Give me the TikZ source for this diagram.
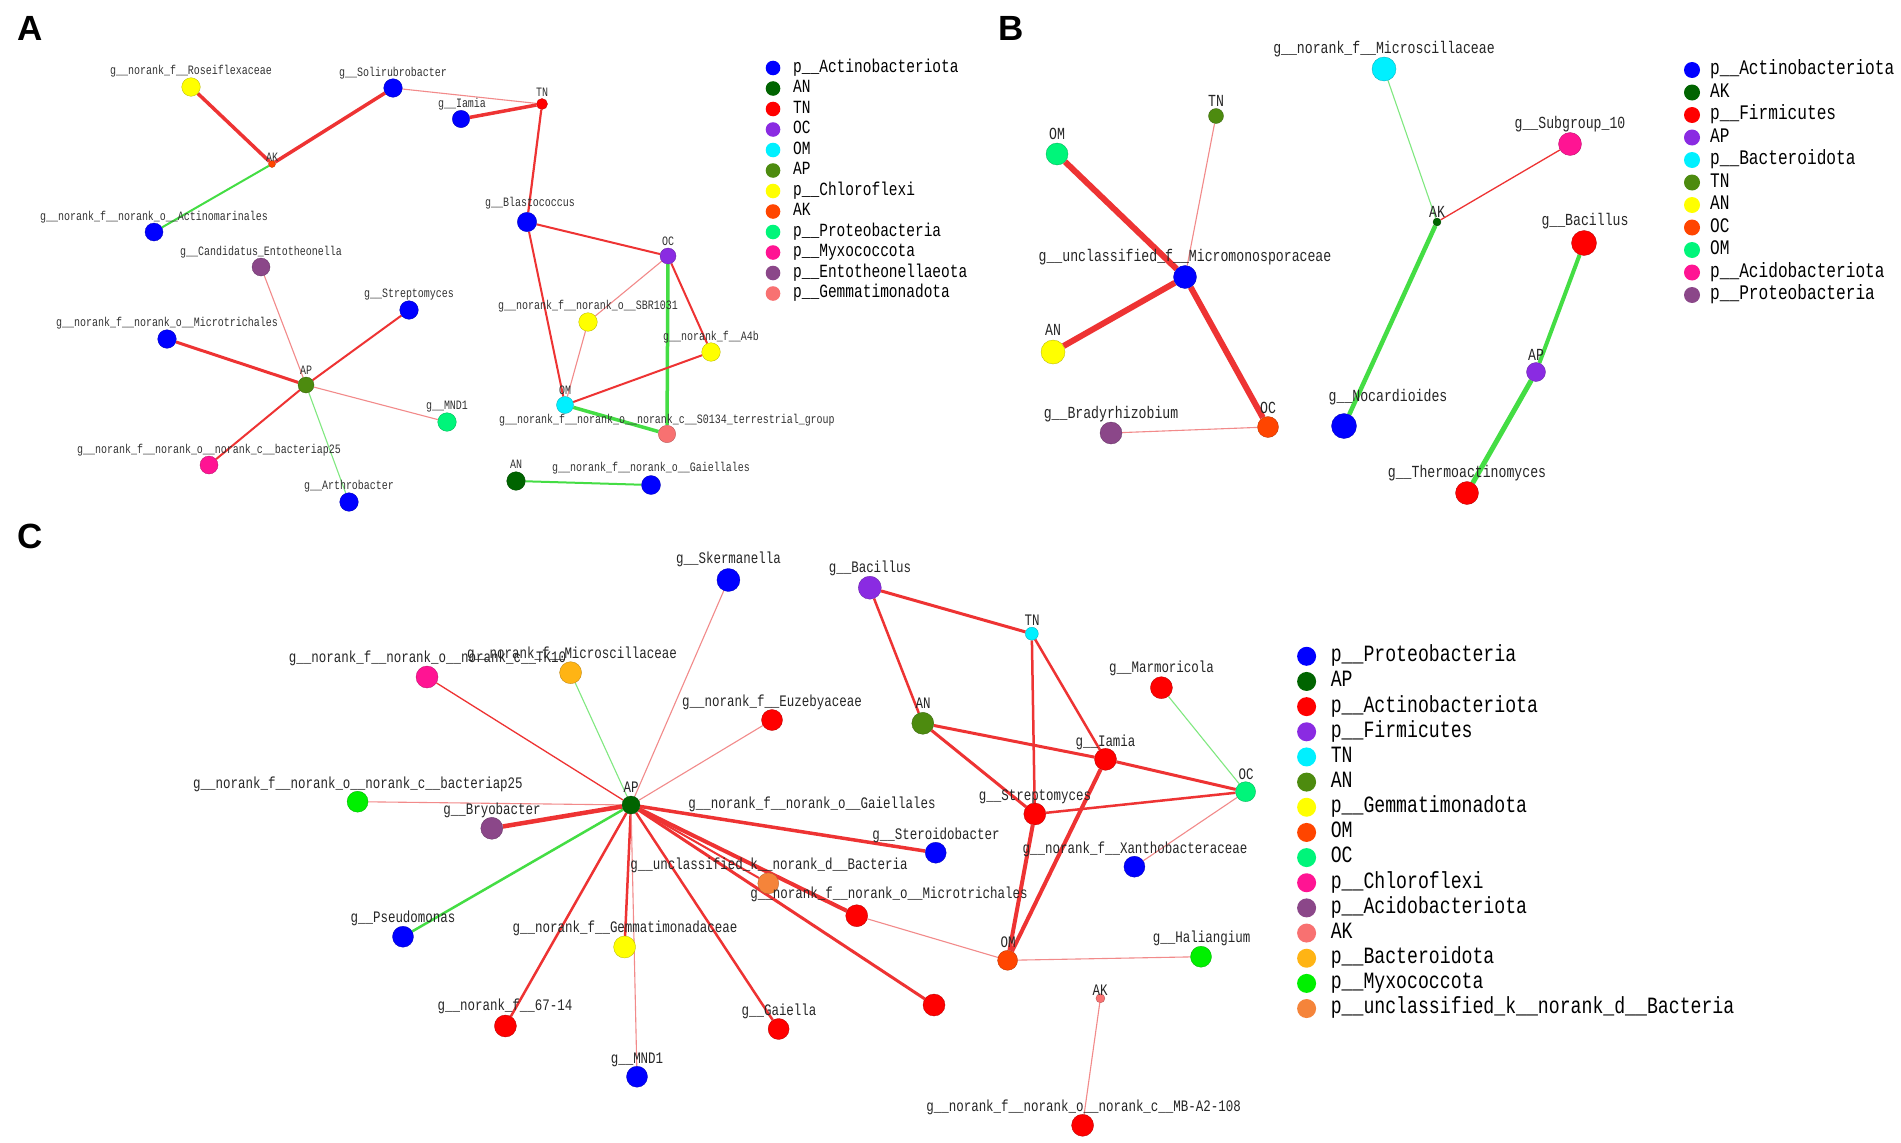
\documentclass[tikz,border=0pt]{standalone}
\usepackage{fontspec}
\newfontfamily\monof[FakeStretch=0.78]{Liberation Mono}
\newfontfamily\boldsans{Liberation Sans}
\definecolor{cBlue}{HTML}{0000FF}
\definecolor{cDGreen}{HTML}{006400}
\definecolor{cRed}{HTML}{FF0000}
\definecolor{cPurple}{HTML}{8A2BE2}
\definecolor{cCyan}{HTML}{00F0FF}
\definecolor{cOlive}{HTML}{4D8B0F}
\definecolor{cYellow}{HTML}{FFFF00}
\definecolor{cOrRed}{HTML}{FF4500}
\definecolor{cSpring}{HTML}{00F57A}
\definecolor{cPink}{HTML}{FF1493}
\definecolor{cEnto}{HTML}{8B4789}
\definecolor{cSalmon}{HTML}{F87171}
\definecolor{cOrange}{HTML}{FFB414}
\definecolor{cLime}{HTML}{00F000}
\definecolor{cOrangeB}{HTML}{F5843A}
\definecolor{eRedC}{HTML}{EE3333}
\definecolor{ePinkC}{HTML}{F28A8A}
\definecolor{eGreenC}{HTML}{44DD44}
\definecolor{eLGreenC}{HTML}{80E880}
\pgfdeclarelayer{bgfill}
\pgfdeclarelayer{edges}
\pgfsetlayers{bgfill,edges,main}
\tikzset{
  nd/.style={circle, inner sep=0pt, fill=#1, draw=#1!70!black, line width=0.3pt},
  fA/.style={font=\monof\fontsize{12.8}{13}\selectfont, inner sep=0pt, anchor=base, yshift=-4.2pt, text=black!80},
  fB/.style={font=\monof\fontsize{16.9}{17}\selectfont, inner sep=0pt, anchor=base, yshift=-5.6pt, text=black!85},
  fC/.style={font=\monof\fontsize{16}{17}\selectfont, inner sep=0pt, anchor=base, yshift=-5.3pt, text=black!85},
  lgA/.style={font=\monof\fontsize{18.6}{19}\selectfont, inner sep=0pt, anchor=base west, yshift=-4.3pt},
  lgB/.style={font=\monof\fontsize{20.7}{21}\selectfont, inner sep=0pt, anchor=base west, yshift=-4.8pt},
  lgC/.style={font=\monof\fontsize{23.3}{24}\selectfont, inner sep=0pt, anchor=base west, yshift=-5.4pt},
  panel/.style={font=\boldsans\bfseries\fontsize{35}{36}\selectfont, inner sep=0pt},
  er/.style={draw=eRedC, line width=#1},
  ep/.style={draw=ePinkC, line width=1.1pt},
  eg/.style={draw=eGreenC, line width=#1},
  elg/.style={draw=eLGreenC, line width=1.1pt}
}
\begin{document}
\begin{tikzpicture}[x=1pt, y=-1pt]
\useasboundingbox (0,0) rectangle (1901,1143);
\begin{pgfonlayer}{bgfill}
\fill[white] (0,0) rectangle (1901,1143);
\end{pgfonlayer}
% panel letters
\node[panel] (pA) at (30.5,28) {A};
\node[panel] (pB) at (1011,28) {B};
\node[panel] (pC) at (30,536) {C};

% ================= Panel A =================
\node[nd=cOrRed, minimum size=7pt] (AAK) at (272,164) {};
\node[nd=cYellow, minimum size=18.6pt] (ARos) at (191,87) {};
\node[nd=cBlue, minimum size=18.6pt] (ASol) at (393,88) {};
\node[nd=cBlue, minimum size=17.4pt] (AIam) at (461,119) {};
\node[nd=cBlue, minimum size=18pt] (AAct) at (154,232) {};
\node[nd=cEnto, minimum size=18pt] (ACan) at (261,267) {};
\node[nd=cBlue, minimum size=18.6pt] (AStr) at (409,310) {};
\node[nd=cRed, minimum size=11pt] (ATN) at (542,104) {};
\node[nd=cBlue, minimum size=19.4pt] (ABla) at (527,222) {};
\node[nd=cPurple, minimum size=16pt] (AOC) at (668,256) {};
\node[nd=cBlue, minimum size=18.6pt] (AMic) at (167,339) {};
\node[nd=cOlive, minimum size=16pt] (AAP) at (306,385) {};
\node[nd=cSpring, minimum size=18.6pt] (AMND) at (447,422) {};
\node[nd=cPink, minimum size=18pt] (Ab25) at (209,465) {};
\node[nd=cBlue, minimum size=18.6pt] (AArt) at (349,502) {};
\node[nd=cYellow, minimum size=18.6pt] (ASBR) at (588,322) {};
\node[nd=cYellow, minimum size=18.6pt] (AA4b) at (711,352) {};
\node[nd=cCyan, minimum size=17pt] (AOM) at (565,405) {};
\node[nd=cSalmon, minimum size=17.4pt] (AS01) at (667,434) {};
\node[nd=cDGreen, minimum size=18.6pt] (AAN) at (516,481) {};
\node[nd=cBlue, minimum size=19pt] (AGai) at (651,485) {};

\node[fA] (tARos) at (191,70) {g\_\_norank\_f\_\_Roseiflexaceae};
\node[fA] (tASol) at (393,72) {g\_\_Solirubrobacter};
\node[fA] (tAIam) at (462,103) {g\_\_Iamia};
\node[fA] (tAAK) at (272,157) {AK};
\node[fA] (tAAct) at (154,216) {g\_\_norank\_f\_\_norank\_o\_\_Actinomarinales};
\node[fA] (tACan) at (261,251) {g\_\_Candidatus\_Entotheonella};
\node[fA] (tAStr) at (409,293) {g\_\_Streptomyces};
\node[fA] (tATN) at (542,92) {TN};
\node[fA] (tABla) at (530,202) {g\_\_Blastococcus};
\node[fA] (tAOC) at (668,241) {OC};
\node[fA] (tAMic) at (167,322) {g\_\_norank\_f\_\_norank\_o\_\_Microtrichales};
\node[fA] (tAAP) at (306,370) {AP};
\node[fA] (tAMND) at (447,405) {g\_\_MND1};
\node[fA] (tAb25) at (209,449) {g\_\_norank\_f\_\_norank\_o\_\_norank\_c\_\_bacteriap25};
\node[fA] (tAArt) at (349,485) {g\_\_Arthrobacter};
\node[fA] (tASBR) at (588,305) {g\_\_norank\_f\_\_norank\_o\_\_SBR1031};
\node[fA] (tAA4b) at (711,336) {g\_\_norank\_f\_\_A4b};
\node[fA] (tAOM) at (565,390) {OM};
\node[fA] (tAS01) at (667,419) {g\_\_norank\_f\_\_norank\_o\_\_norank\_c\_\_S0134\_terrestrial\_group};
\node[fA] (tAAN) at (516,464) {AN};
\node[fA] (tAGai) at (651,467) {g\_\_norank\_f\_\_norank\_o\_\_Gaiellales};

\foreach \cl/\tx [count=\i from 0] in {cBlue/p\_\_Actinobacteriota, cDGreen/AN, cRed/TN, cPurple/OC, cCyan/OM, cOlive/AP, cYellow/p\_\_Chloroflexi, cOrRed/AK, cSpring/p\_\_Proteobacteria, cPink/p\_\_Myxococcota, cEnto/p\_\_Entotheonellaeota, cSalmon/p\_\_Gemmatimonadota}{
  \node[circle, inner sep=0pt, fill=\cl, minimum size=14.6pt] (LA\i) at (773,{68+20.5*\i}) {};
  \node[lgA] (LAt\i) at (793,{68+20.5*\i}) {\tx};
}

% ================= Panel B =================
\node[nd=cCyan, minimum size=24pt] (BMicros) at (1384,69) {};
\node[nd=cOlive, minimum size=15pt] (BTN) at (1216,116) {};
\node[nd=cSpring, minimum size=22pt] (BOM) at (1057,154) {};
\node[nd=cBlue, minimum size=23pt] (BMicro) at (1185,277) {};
\node[nd=cYellow, minimum size=24pt] (BAN) at (1053,352) {};
\node[nd=cEnto, minimum size=22pt] (BBrad) at (1111,433) {};
\node[nd=cOrRed, minimum size=21pt] (BOC) at (1268,427) {};
\node[nd=cBlue, minimum size=25pt] (BNoc) at (1344,426) {};
\node[nd=cDGreen, minimum size=8pt] (BAK) at (1437,222) {};
\node[nd=cPink, minimum size=23pt] (BSub) at (1570,144) {};
\node[nd=cRed, minimum size=25pt] (BBac) at (1584,243) {};
\node[nd=cPurple, minimum size=19pt] (BAP) at (1536,372) {};
\node[nd=cRed, minimum size=23pt] (BTher) at (1467,493) {};

\node[fB] (tBMicros) at (1384,48) {g\_\_norank\_f\_\_Microscillaceae};
\node[fB] (tBTN) at (1216,101) {TN};
\node[fB] (tBOM) at (1057,134) {OM};
\node[fB] (tBMicro) at (1185,256) {g\_\_unclassified\_f\_\_Micromonosporaceae};
\node[fB] (tBAN) at (1053,330) {AN};
\node[fB] (tBBrad) at (1111,413) {g\_\_Bradyrhizobium};
\node[fB] (tBOC) at (1268,408) {OC};
\node[fB] (tBNoc) at (1388,396) {g\_\_Nocardioides};
\node[fB] (tBAK) at (1437,212) {AK};
\node[fB] (tBSub) at (1570,123) {g\_\_Subgroup\_10};
\node[fB] (tBBac) at (1585,220) {g\_\_Bacillus};
\node[fB] (tBAP) at (1536,355) {AP};
\node[fB] (tBTher) at (1467,472) {g\_\_Thermoactinomyces};

\foreach \cl/\tx [count=\i from 0] in {cBlue/p\_\_Actinobacteriota, cDGreen/AK, cRed/p\_\_Firmicutes, cPurple/AP, cCyan/p\_\_Bacteroidota, cOlive/TN, cYellow/AN, cOrRed/OC, cSpring/OM, cPink/p\_\_Acidobacteriota, cEnto/p\_\_Proteobacteria}{
  \node[circle, inner sep=0pt, fill=\cl, minimum size=16pt] (LB\i) at (1692,{70+22.5*\i}) {};
  \node[lgB] (LBt\i) at (1710,{70+22.5*\i}) {\tx};
}

% ================= Panel C =================
\node[nd=cDGreen, minimum size=18pt] (CAP) at (631,805) {};
\node[nd=cPink, minimum size=22pt] (CTK) at (427,677) {};
\node[nd=cOrange, minimum size=22pt] (CMicros) at (570.6,672.7) {};
\node[nd=cLime, minimum size=21pt] (Cb25) at (357.6,801.7) {};
\node[nd=cEnto, minimum size=22pt] (CBry) at (491.8,828.3) {};
\node[nd=cBlue, minimum size=23pt] (CSke) at (728.4,580) {};
\node[nd=cPurple, minimum size=23pt] (CBac) at (869.8,587.7) {};
\node[nd=cCyan, minimum size=13pt] (CTN) at (1031.8,633.7) {};
\node[nd=cRed, minimum size=22pt] (CMar) at (1161.4,687.7) {};
\node[nd=cRed, minimum size=21pt] (CEuz) at (772,720) {};
\node[nd=cOlive, minimum size=22pt] (CAN) at (922.8,723.3) {};
\node[nd=cRed, minimum size=22pt] (CIam) at (1105.5,759.3) {};
\node[nd=cSpring, minimum size=20pt] (COC) at (1245.6,791.7) {};
\node[nd=cRed, minimum size=22pt] (CStr) at (1034.8,814) {};
\node[nd=cBlue, minimum size=21pt] (CSte) at (935.7,852.7) {};
\node[nd=cBlue, minimum size=21pt] (CXan) at (1134.4,866.7) {};
\node[nd=cOrangeB, minimum size=21pt] (CUnc) at (768.3,883.3) {};
\node[nd=cRed, minimum size=22pt] (CMtr) at (856.7,915.7) {};
\node[nd=cYellow, minimum size=22pt] (CGem) at (624.6,947) {};
\node[nd=cOrRed, minimum size=20pt] (COM) at (1007.6,960.3) {};
\node[nd=cLime, minimum size=21pt] (CHal) at (1201,956.7) {};
\node[nd=cSalmon, minimum size=9pt] (CAK) at (1100.4,998.3) {};
\node[nd=cRed, minimum size=21pt] (CGaa) at (778.6,1029) {};
\node[nd=cRed, minimum size=22pt] (CRed) at (934,1005) {};
\node[nd=cBlue, minimum size=21pt] (CMND) at (637,1076.7) {};
\node[nd=cRed, minimum size=22pt] (CMB) at (1082.6,1125.3) {};
\node[nd=cBlue, minimum size=21pt] (CPse) at (403,936.7) {};
\node[nd=cRed, minimum size=22pt] (C6714) at (505.4,1026) {};

\node[fC] (tCTK) at (427.5,657) {g\_\_norank\_f\_\_norank\_o\_\_norank\_c\_\_TK10};
\node[fC] (tCMicros) at (572,653) {g\_\_norank\_f\_\_Microscillaceae};
\node[fC] (tCAP) at (631,787) {AP};
\node[fC] (tCb25) at (358,783) {g\_\_norank\_f\_\_norank\_o\_\_norank\_c\_\_bacteriap25};
\node[fC] (tCBry) at (492,809) {g\_\_Bryobacter};
\node[fC] (tCSke) at (728.5,558) {g\_\_Skermanella};
\node[fC] (tCBac) at (870,567) {g\_\_Bacillus};
\node[fC] (tCTN) at (1032,620) {TN};
\node[fC] (tCMar) at (1161.5,667) {g\_\_Marmoricola};
\node[fC] (tCEuz) at (772,701) {g\_\_norank\_f\_\_Euzebyaceae};
\node[fC] (tCAN) at (923,703) {AN};
\node[fC] (tCIam) at (1105.5,741) {g\_\_Iamia};
\node[fC] (tCOC) at (1246,774) {OC};
\node[fC] (tCStr) at (1035,795) {g\_\_Streptomyces};
\node[fC] (tCGai) at (812,803) {g\_\_norank\_f\_\_norank\_o\_\_Gaiellales};
\node[fC] (tCSte) at (936,834) {g\_\_Steroidobacter};
\node[fC] (tCXan) at (1135,848) {g\_\_norank\_f\_\_Xanthobacteraceae};
\node[fC] (tCUnc) at (769,864) {g\_\_unclassified\_k\_\_norank\_d\_\_Bacteria};
\node[fC] (tCMtr) at (889,893) {g\_\_norank\_f\_\_norank\_o\_\_Microtrichales};
\node[fC] (tCGem) at (625,927) {g\_\_norank\_f\_\_Gemmatimonadaceae};
\node[fC] (tCOM) at (1008,942) {OM};
\node[fC] (tCHal) at (1201.6,937) {g\_\_Haliangium};
\node[fC] (tCAK) at (1100,990) {AK};
\node[fC] (tCGaa) at (779,1010) {g\_\_Gaiella};
\node[fC] (tCMND) at (637,1058) {g\_\_MND1};
\node[fC] (tCMB) at (1083.6,1106) {g\_\_norank\_f\_\_norank\_o\_\_norank\_c\_\_MB-A2-108};
\node[fC] (tCPse) at (403,917) {g\_\_Pseudomonas};
\node[fC] (tC6714) at (505,1005) {g\_\_norank\_f\_\_67-14};

\foreach \cl/\tx [count=\i from 0] in {cBlue/p\_\_Proteobacteria, cDGreen/AP, cRed/p\_\_Actinobacteriota, cPurple/p\_\_Firmicutes, cCyan/TN, cOlive/AN, cYellow/p\_\_Gemmatimonadota, cOrRed/OM, cSpring/OC, cPink/p\_\_Chloroflexi, cEnto/p\_\_Acidobacteriota, cSalmon/AK, cOrange/p\_\_Bacteroidota, cLime/p\_\_Myxococcota, cOrangeB/p\_\_unclassified\_k\_\_norank\_d\_\_Bacteria}{
  \node[circle, inner sep=0pt, fill=\cl, minimum size=19pt] (LC\i) at (1306.6,{656.3+25.16*\i}) {};
  \node[lgC] (LCt\i) at (1330.6,{656.3+25.16*\i}) {\tx};
}

% ================= Edges =================
\begin{pgfonlayer}{edges}
% A
\draw[er=3.5pt] (AAK) -- (ARos);
\draw[er=3.5pt] (AAK) -- (ASol);
\draw[eg=2pt] (AAK) -- (AAct);
\draw[ep] (ASol) -- (ATN);
\draw[er=3.5pt] (AIam) -- (ATN);
\draw[er=2.2pt] (ATN) -- (ABla);
\draw[er=2pt] (ABla) -- (AOC);
\draw[er=2pt] (ABla) -- (AOM);
\draw[ep] (AOC) -- (ASBR);
\draw[ep] (ASBR) -- (AOM);
\draw[eg=3.5pt] (AOC) -- (AS01);
\draw[er=2pt] (AOC) -- (AA4b);
\draw[er=2pt] (AA4b) -- (AOM);
\draw[eg=3.5pt] (AOM) -- (AS01);
\draw[eg=2pt] (AAN) -- (AGai);
\draw[ep] (AAP) -- (ACan);
\draw[er=2pt] (AAP) -- (AStr);
\draw[er=3pt] (AAP) -- (AMic);
\draw[ep] (AAP) -- (AMND);
\draw[er=2pt] (AAP) -- (Ab25);
\draw[elg] (AAP) -- (AArt);
% B
\draw[er=6pt] (BOM) -- (BMicro);
\draw[ep] (BTN) -- (BMicro);
\draw[er=6pt] (BAN) -- (BMicro);
\draw[er=6pt] (BMicro) -- (BOC);
\draw[ep] (BBrad) -- (BOC);
\draw[elg] (BMicros) -- (BAK);
\draw[er=1.3pt] (BAK) -- (BSub);
\draw[eg=4.5pt] (BAK) -- (BNoc);
\draw[eg=4pt] (BBac) -- (BAP);
\draw[eg=5pt] (BAP) -- (BTher);
% C
\draw[er=1.3pt] (CAP) -- (CTK);
\draw[elg] (CAP) -- (CMicros);
\draw[ep] (CAP) -- (CSke);
\draw[ep] (CAP) -- (CEuz);
\draw[ep] (CAP) -- (Cb25);
\draw[er=4.5pt] (CAP) -- (CBry);
\draw[eg=2.5pt] (CAP) -- (CPse);
\draw[er=2.5pt] (CAP) -- (C6714);
\draw[er=2.5pt] (CAP) -- (CGem);
\draw[ep] (CAP) -- (CMND);
\draw[er=2.5pt] (CAP) -- (CGaa);
\draw[er=3pt] (CAP) -- (CRed);
\draw[er=4pt] (CAP) -- (CMtr);
\draw[er=2pt] (CAP) -- (CUnc);
\draw[er=3.5pt] (CAP) -- (CSte);
\draw[er=3pt] (CBac) -- (CTN);
\draw[er=2.5pt] (CBac) -- (CAN);
\draw[er=2.5pt] (CTN) -- (CStr);
\draw[er=2.5pt] (CTN) -- (CIam);
\draw[er=3pt] (CAN) -- (CIam);
\draw[er=3pt] (CAN) -- (CStr);
\draw[er=3pt] (CIam) -- (COC);
\draw[er=2.5pt] (CStr) -- (COC);
\draw[elg] (CMar) -- (COC);
\draw[ep] (COC) -- (CXan);
\draw[er=4pt] (CStr) -- (COM);
\draw[er=4pt] (CIam) -- (COM);
\draw[ep] (CMtr) -- (COM);
\draw[ep] (COM) -- (CHal);
\draw[ep] (CAK) -- (CMB);
\end{pgfonlayer}
\end{tikzpicture}
\end{document}
